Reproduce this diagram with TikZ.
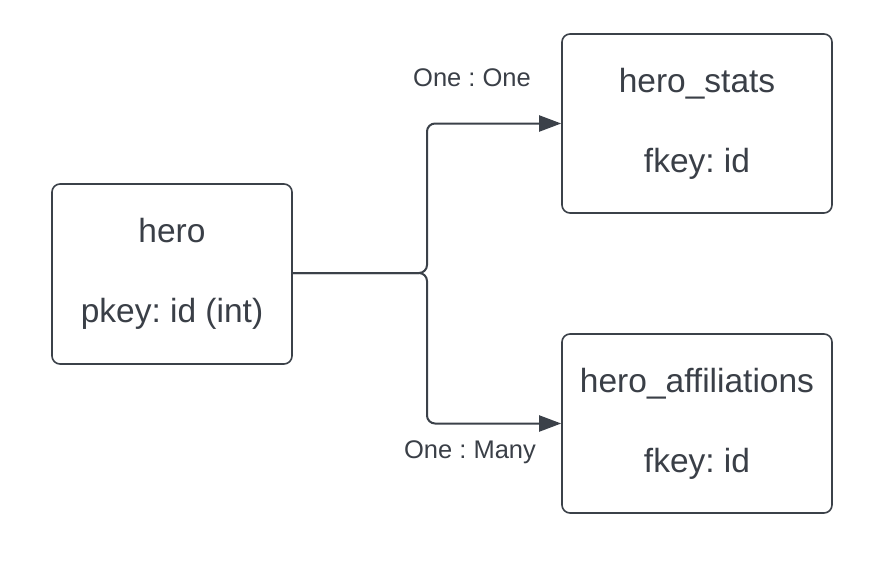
\documentclass[tikz,border=0pt]{standalone}
\usepackage{fontspec}
\setmainfont{Liberation Sans}
\usepackage{xcolor}
\usepackage{tikz}
\usetikzlibrary{arrows.meta, positioning}
\frenchspacing

\definecolor{lineGray}{HTML}{3B4149}
\definecolor{textGray}{HTML}{3A3F47}

\tikzset{
    table/.style={draw=lineGray, line width=1.6pt, rounded corners=8pt, fill=white,
        align=center, text=textGray, font=\fontsize{33.5}{80}\selectfont, inner sep=0pt},
    link/.style={draw=lineGray, line width=2pt, rounded corners=8pt,
        -{Triangle[length=22pt, width=16pt]}},
    ratio/.style={text=textGray, font=\fontsize{25.5}{30}\selectfont}
}

\begin{document}
\begin{tikzpicture}[x=1pt, y=-1pt]
    \useasboundingbox (0,0) rectangle (870,560);

    % the three tables
    \node[table, minimum width=240pt, minimum height=180pt] (hero) at (172,274)
        {hero\\pkey: id (int)};
    \node[table, minimum width=270pt, minimum height=179pt] (stats) at (697,123.5)
        {hero\_stats\\fkey: id};
    \node[table, minimum width=270pt, minimum height=179pt] (affil) at (697,423.5)
        {hero\_affiliations\\fkey: id};

    % where the link splits
    \coordinate (split) at (427,273);

    \draw[link] (hero.east |- split) -- (split) |- (stats.west);
    \draw[link] (hero.east |- split) -- (split) |- (affil.west);

    % cardinalities
    \node[ratio] (oneOne) at (472,78) {One : One};
    \node[ratio] (oneMany) at (470,452) {One : Many};
\end{tikzpicture}
\end{document}
